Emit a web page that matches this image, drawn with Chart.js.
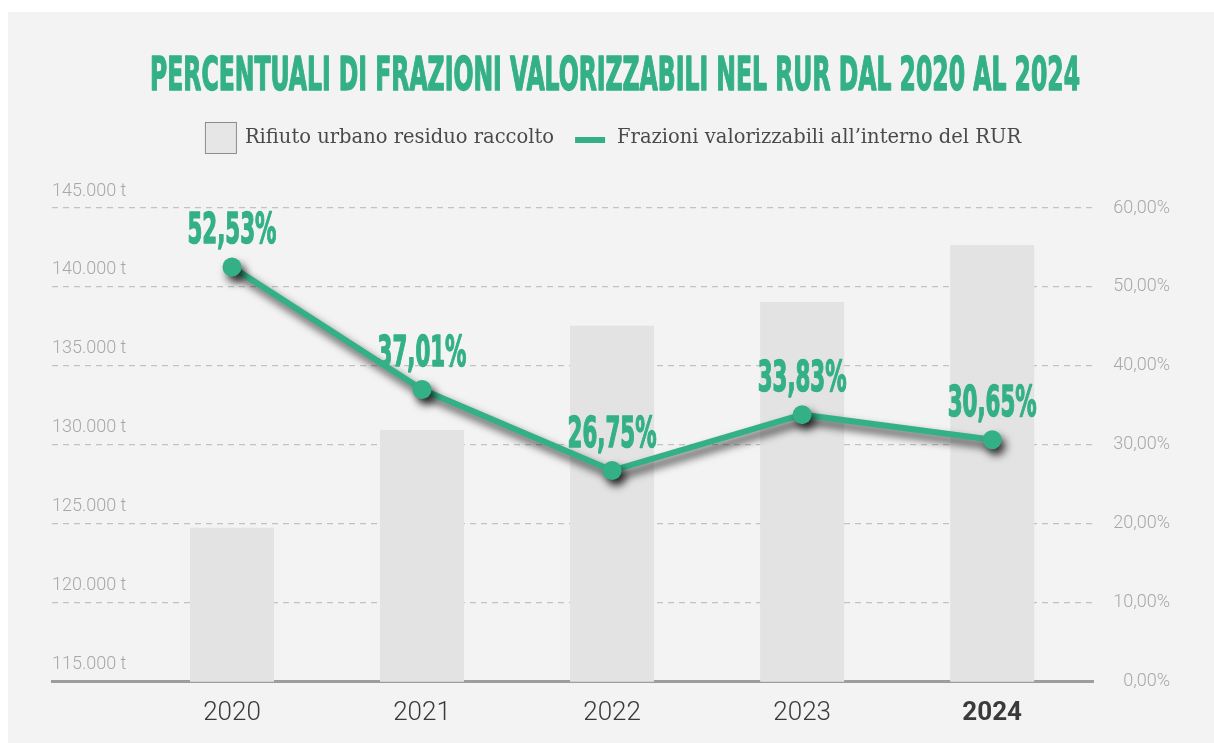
<!DOCTYPE html>
<html lang="it">
<head>
<meta charset="utf-8">
<title>Percentuali di frazioni valorizzabili nel RUR</title>
<script src="https://cdn.jsdelivr.net/npm/chart.js@4.4.1/dist/chart.umd.min.js"></script>
<style>
  html, body { margin: 0; padding: 0; background: #fff; }
  #panel { position: absolute; left: 8px; top: 12px; width: 1206px; height: 731px; background: #f3f3f3; overflow: hidden; }
  canvas { display: block; }
</style>
</head>
<body>
<div id="panel"><canvas id="chart" width="1206" height="735"></canvas></div>
<script>
// data
const chartTitle = 'PERCENTUALI DI FRAZIONI VALORIZZABILI NEL RUR DAL 2020 AL 2024';
const seriesNames = ['Rifiuto urbano residuo raccolto', 'Frazioni valorizzabili all\u2019interno del RUR'];
const years = ['2020', '2021', '2022', '2023', '2024'];
const rurTonnes = [124750, 130950, 137550, 139050, 142650];
const valorizzabiliPct = [52.53, 37.01, 26.75, 33.83, 30.65];
const tonnesTicks = [115000, 120000, 125000, 130000, 135000, 140000, 145000];
const pctTicks = [0, 10, 20, 30, 40, 50, 60];

const GREEN = '#33b085';
const BAR_GREY = '#e3e3e3';

function fmtTonnes(n){
  return String(n).replace(/\B(?=(\d{3})+(?!\d))/g, '.') + ' t';
}
function fmtPct(v){
  return v.toFixed(2).replace('.', ',') + '%';
}

// condensed bold text: draw a bold face squeezed horizontally
const CONDENSED = '"Liberation Sans Narrow", "DejaVu Sans Condensed", sans-serif';
function drawSqueezed(ctx, text, x, y, size, targetW){
  ctx.save();
  ctx.font = 'bold ' + size + 'px ' + CONDENSED;
  ctx.textAlign = 'center';
  ctx.textBaseline = 'alphabetic';
  const sx = targetW / ctx.measureText(text).width;
  ctx.translate(x, y);
  ctx.scale(sx, 1);
  ctx.strokeStyle = ctx.fillStyle;
  ctx.lineWidth = 1.4;
  ctx.lineJoin = 'round';
  ctx.strokeText(text, 0, 0);
  ctx.fillText(text, 0, 0);
  ctx.restore();
}

const headerPlugin = {
  id: 'header',
  afterDraw(chart){
    const ctx = chart.ctx;
    ctx.save();
    ctx.fillStyle = GREEN;
    drawSqueezed(ctx, chartTitle, 607, 78, 46, 930);

    // legend
    ctx.font = '19.5px "DejaVu Serif", serif';
    ctx.textBaseline = 'middle';
    ctx.textAlign = 'left';
    const w1 = ctx.measureText(seriesNames[0]).width;
    const w2 = ctx.measureText(seriesNames[1]).width;
    const total = 32 + 8 + w1 + 21 + 30 + 12 + w2;
    let x = 605 - total / 2;
    const cy = 126;
    ctx.fillStyle = '#e6e6e6';
    ctx.fillRect(x, cy - 16, 32, 32);
    ctx.strokeStyle = '#8c8c8c';
    ctx.lineWidth = 1;
    ctx.strokeRect(x + 0.5, cy - 15.5, 31, 31);
    x += 40;
    ctx.fillStyle = '#4a4a4a';
    ctx.fillText(seriesNames[0], x, cy);
    x += w1 + 21;
    ctx.fillStyle = GREEN;
    ctx.fillRect(x, cy - 1, 30, 6);
    x += 42;
    ctx.fillStyle = '#4a4a4a';
    ctx.fillText(seriesNames[1], x, cy);
    ctx.restore();
  }
};

const shadowPlugin = {
  id: 'lineShadow',
  beforeDatasetDraw(chart, args){
    if(args.index !== 1) return;
    const ctx = chart.ctx;
    ctx.save();
    ctx.shadowColor = 'rgba(0,0,0,0.75)';
    ctx.shadowBlur = 9;
    ctx.shadowOffsetX = 4;
    ctx.shadowOffsetY = 6;
  },
  afterDatasetDraw(chart, args){
    if(args.index !== 1) return;
    chart.ctx.restore();
  }
};

const pctLabelPlugin = {
  id: 'pctLabels',
  afterDatasetsDraw(chart){
    const ctx = chart.ctx;
    const meta = chart.getDatasetMeta(1);
    ctx.save();
    ctx.fillStyle = GREEN;
    meta.data.forEach((pt, i) => {
      drawSqueezed(ctx, fmtPct(valorizzabiliPct[i]), pt.x, pt.y - 24, 42, 89);
    });
    ctx.restore();
  }
};

const ctx = document.getElementById('chart').getContext('2d');
new Chart(ctx, {
  type: 'bar',
  data: {
    datasets: [
      {
        type: 'bar',
        label: seriesNames[0],
        data: rurTonnes.map((v, i) => ({x: i, y: v})),
        yAxisID: 'y',
        backgroundColor: BAR_GREY,
        borderWidth: 0,
        categoryPercentage: 1,
        barPercentage: 0.442,
        order: 1
      },
      {
        type: 'line',
        label: seriesNames[1],
        data: valorizzabiliPct.map((v, i) => ({x: i, y: v})),
        yAxisID: 'y2',
        borderColor: GREEN,
        backgroundColor: GREEN,
        borderWidth: 6,
        pointRadius: 9.5,
        pointBorderWidth: 0,
        pointBackgroundColor: GREEN,
        tension: 0,
        clip: false,
        order: 0
      }
    ]
  },
  options: {
    responsive: false,
    animation: false,
    devicePixelRatio: 1,
    layout: {padding: {top: 196, left: 44, right: 44, bottom: 2}},
    plugins: {
      legend: {display: false},
      title: {display: false},
      tooltip: {enabled: false}
    },
    scales: {
      x: {
        type: 'linear',
        offset: false,
        min: -0.947,
        max: 4.532,
        afterBuildTicks: s => { s.ticks = years.map((_, i) => ({value: i})); },
        grid: {display: false, drawTicks: false},
        border: {display: true, color: '#9d9d9d', width: 3},
        ticks: {
          padding: 16,
          color: '#3a3a3a',
          callback: v => years[v],
          font: c => ({family: 'Roboto', size: 26, weight: c.index === years.length - 1 ? 'bold' : '300'})
        }
      },
      y: {
        position: 'left',
        min: tonnesTicks[0],
        max: tonnesTicks[tonnesTicks.length - 1],
        afterBuildTicks: s => { s.ticks = tonnesTicks.map(v => ({value: v})); },
        grid: {color: '#c2c2c2', lineWidth: 1.2, drawTicks: false},
        border: {display: false, dash: [6, 5]},
        ticks: {
          mirror: true,
          padding: 0,
          labelOffset: -17,
          color: '#a8a8a8',
          font: {family: 'Roboto', size: 18, weight: '300'},
          callback: v => fmtTonnes(v)
        }
      },
      y2: {
        position: 'right',
        min: pctTicks[0],
        max: pctTicks[pctTicks.length - 1],
        afterBuildTicks: s => { s.ticks = pctTicks.map(v => ({value: v})); },
        grid: {display: false, drawTicks: false},
        border: {display: false},
        ticks: {
          padding: 10,
          crossAlign: 'far',
          color: '#a8a8a8',
          font: {family: 'Roboto', size: 18, weight: '300'},
          callback: v => fmtPct(v)
        }
      }
    }
  },
  plugins: [shadowPlugin, pctLabelPlugin, headerPlugin]
});
</script>
</body>
</html>
